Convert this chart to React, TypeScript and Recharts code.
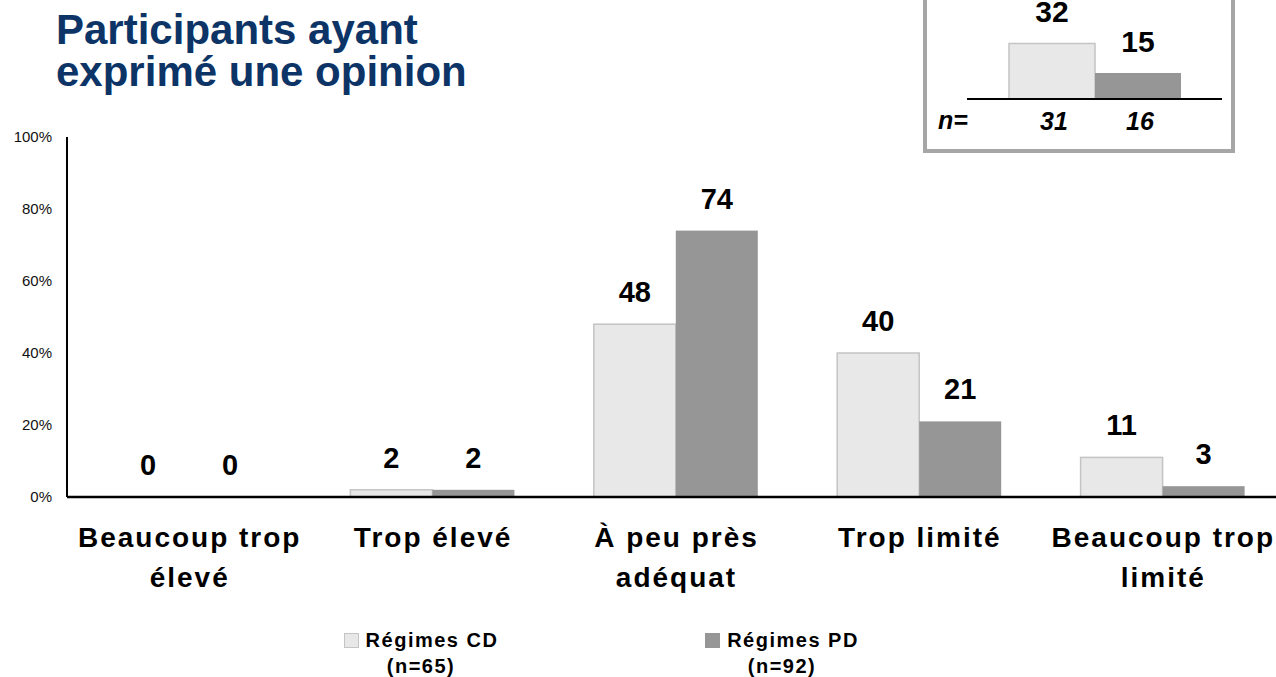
import React from "react";
import { BarChart, Bar, XAxis, YAxis, LabelList } from "recharts";

const categories = ["Beaucoup trop élevé", "Trop élevé", "À peu près adéquat", "Trop limité", "Beaucoup trop limité"];
const tickLines: string[][] = [["Beaucoup trop", "élevé"], ["Trop élevé"], ["À peu près", "adéquat"], ["Trop limité"], ["Beaucoup trop", "limité"]];
const cdValues = [0, 2, 48, 40, 11];
const pdValues = [0, 2, 74, 21, 3];
const yTicks = [0, 20, 40, 60, 80, 100];
const seriesNames = ["Régimes CD", "Régimes PD"];
const seriesN = ["(n=65)", "(n=92)"];

const insetCD = [32];
const insetPD = [15];
const insetN = [31, 16];

const CD_FILL = "#e8e8e8";
const CD_STROKE = "#c4c4c4";
const PD_FILL = "#969696";
const FONT = "'Liberation Sans', Arial, sans-serif";

const data = categories.map((c, i) => ({
  name: c,
  cd: cdValues[i],
  pd: pdValues[i],
  cdLabel: String(cdValues[i]),
  pdLabel: String(pdValues[i]),
}));
const insetData = [{ name: "", cd: insetCD[0], pd: insetPD[0], ncd: insetN[0], npd: insetN[1] }];

const XTick = (props: any) => {
  const { x, y, payload, index } = props;
  const lines = tickLines[index] || [payload.value];
  return (
    <g transform={`translate(${x},${y})`}>
      <text textAnchor="middle" fontFamily={FONT} fontWeight="bold" fontSize={28} letterSpacing={2} fill="#000">
        {lines.map((l, i) => (
          <tspan key={i} x={1} y={50 + i * 40}>{l}</tspan>
        ))}
      </text>
    </g>
  );
};

const TopLabel = (props: any) => {
  const { x, y, width, value } = props;
  return (
    <text x={x + width / 2} y={y - 22} textAnchor="middle" fontFamily={FONT} fontWeight="bold" fontSize={29} fill="#000">
      {value}
    </text>
  );
};

const makeShape = (fill: string, stroke?: string) => (props: any) => {
  const { x, y, width, height } = props;
  if (!(height >= 0.5)) return <g />;
  return <rect x={x} y={y} width={width} height={height} fill={fill} stroke={stroke || "none"} strokeWidth={stroke ? 1.5 : 0} />;
};

const zeroMin = (v: any) => (v === 0 ? 0.01 : 0);

const makeNLabel = (key: string) => (props: any) => {
  const { x, y, width, height, index } = props;
  const v = insetData[index][key];
  return (
    <text x={x + width / 2 + 2} y={y + height + 31} textAnchor="middle" fontFamily={FONT} fontWeight="bold" fontStyle="italic" fontSize={25} fill="#000">
      {v}
    </text>
  );
};

export default function App() {
  return (
    <div style={{ position: "absolute", left: 0, top: 0, width: 1276, height: 677, overflow: "hidden", background: "#fff", fontFamily: FONT }}>
      <div style={{ position: "absolute", left: 56, top: 9, fontSize: 42, fontWeight: "bold", color: "#0d3466", lineHeight: "42px", whiteSpace: "nowrap" }}>
        <div style={{ height: 42 }}>Participants ayant</div>
        <div style={{ height: 42 }}>exprimé une opinion</div>
      </div>

      <div style={{ position: "absolute", left: 0, top: 0 }}>
        <BarChart width={1290} height={677} data={data} margin={{ top: 137, right: 6, bottom: 0, left: 0 }} barGap={0} barSize={82}>
          <XAxis dataKey="name" height={180} axisLine={{ stroke: "#000", strokeWidth: 2.5 }} tickLine={false} tickSize={0} tickMargin={0} tick={<XTick />} interval={0} />
          <YAxis width={67} domain={[0, 100]} ticks={yTicks} tickFormatter={(v) => `${v}%`} axisLine={{ stroke: "#000", strokeWidth: 2 }} tickLine={false} tickSize={0} tickMargin={15} tick={{ fontSize: 15, fill: "#111", fontFamily: FONT }} />
          <Bar dataKey="cd" name={seriesNames[0]} fill={CD_FILL} stroke={CD_STROKE} strokeWidth={1.5} minPointSize={zeroMin} shape={makeShape(CD_FILL, CD_STROKE)} isAnimationActive={false}>
            <LabelList dataKey="cdLabel" content={<TopLabel />} />
          </Bar>
          <Bar dataKey="pd" name={seriesNames[1]} fill={PD_FILL} minPointSize={zeroMin} shape={makeShape(PD_FILL)} isAnimationActive={false}>
            <LabelList dataKey="pdLabel" content={<TopLabel />} />
          </Bar>
        </BarChart>
      </div>

      {/* Legend */}
      {[0, 1].map((i) => (
        <div key={i} style={{ position: "absolute", left: (i === 0 ? 421 : 782) - 110, top: 627, width: 220, textAlign: "center", fontSize: 20, fontWeight: "bold", letterSpacing: 1.5, lineHeight: "26px", color: "#000", whiteSpace: "nowrap" }}>
          <div>
            <span style={{ display: "inline-block", width: 13, height: 13, background: i === 0 ? CD_FILL : PD_FILL, border: i === 0 ? `1px solid ${CD_STROKE}` : `1px solid ${PD_FILL}`, marginRight: 7, verticalAlign: "-1px" }} />
            {seriesNames[i]}
          </div>
          <div>{seriesN[i]}</div>
        </div>
      ))}

      {/* Inset box */}
      <div style={{ position: "absolute", left: 923, top: -20, width: 312, height: 173, boxSizing: "border-box", border: "4px solid #a6a6a6", background: "#fff" }} />
      <div style={{ position: "absolute", left: 938, top: 105, fontSize: 25, fontWeight: "bold", fontStyle: "italic", lineHeight: "30px", color: "#000" }}>n=</div>
      <div style={{ position: "absolute", left: 967, top: 0 }}>
        <BarChart width={255} height={140} data={insetData} margin={{ top: 0, right: 0, bottom: 40, left: 0 }} barGap={0} barSize={86} style={{ overflow: "visible" }}>
          <XAxis dataKey="name" height={1} axisLine={{ stroke: "#000", strokeWidth: 2 }} tick={false} tickLine={false} />
          <YAxis hide domain={[0, 57]} />
          <Bar dataKey="cd" fill={CD_FILL} stroke={CD_STROKE} strokeWidth={1.5} isAnimationActive={false}>
            <LabelList dataKey="cd" position="top" offset={21} style={{ fontFamily: FONT, fontWeight: "bold", fontSize: 30, fill: "#000" }} />
            <LabelList dataKey="ncd" content={makeNLabel("ncd")} />
          </Bar>
          <Bar dataKey="pd" fill={PD_FILL} isAnimationActive={false}>
            <LabelList dataKey="pd" position="top" offset={21} style={{ fontFamily: FONT, fontWeight: "bold", fontSize: 30, fill: "#000" }} />
            <LabelList dataKey="npd" content={makeNLabel("npd")} />
          </Bar>
        </BarChart>
      </div>
    </div>
  );
}
